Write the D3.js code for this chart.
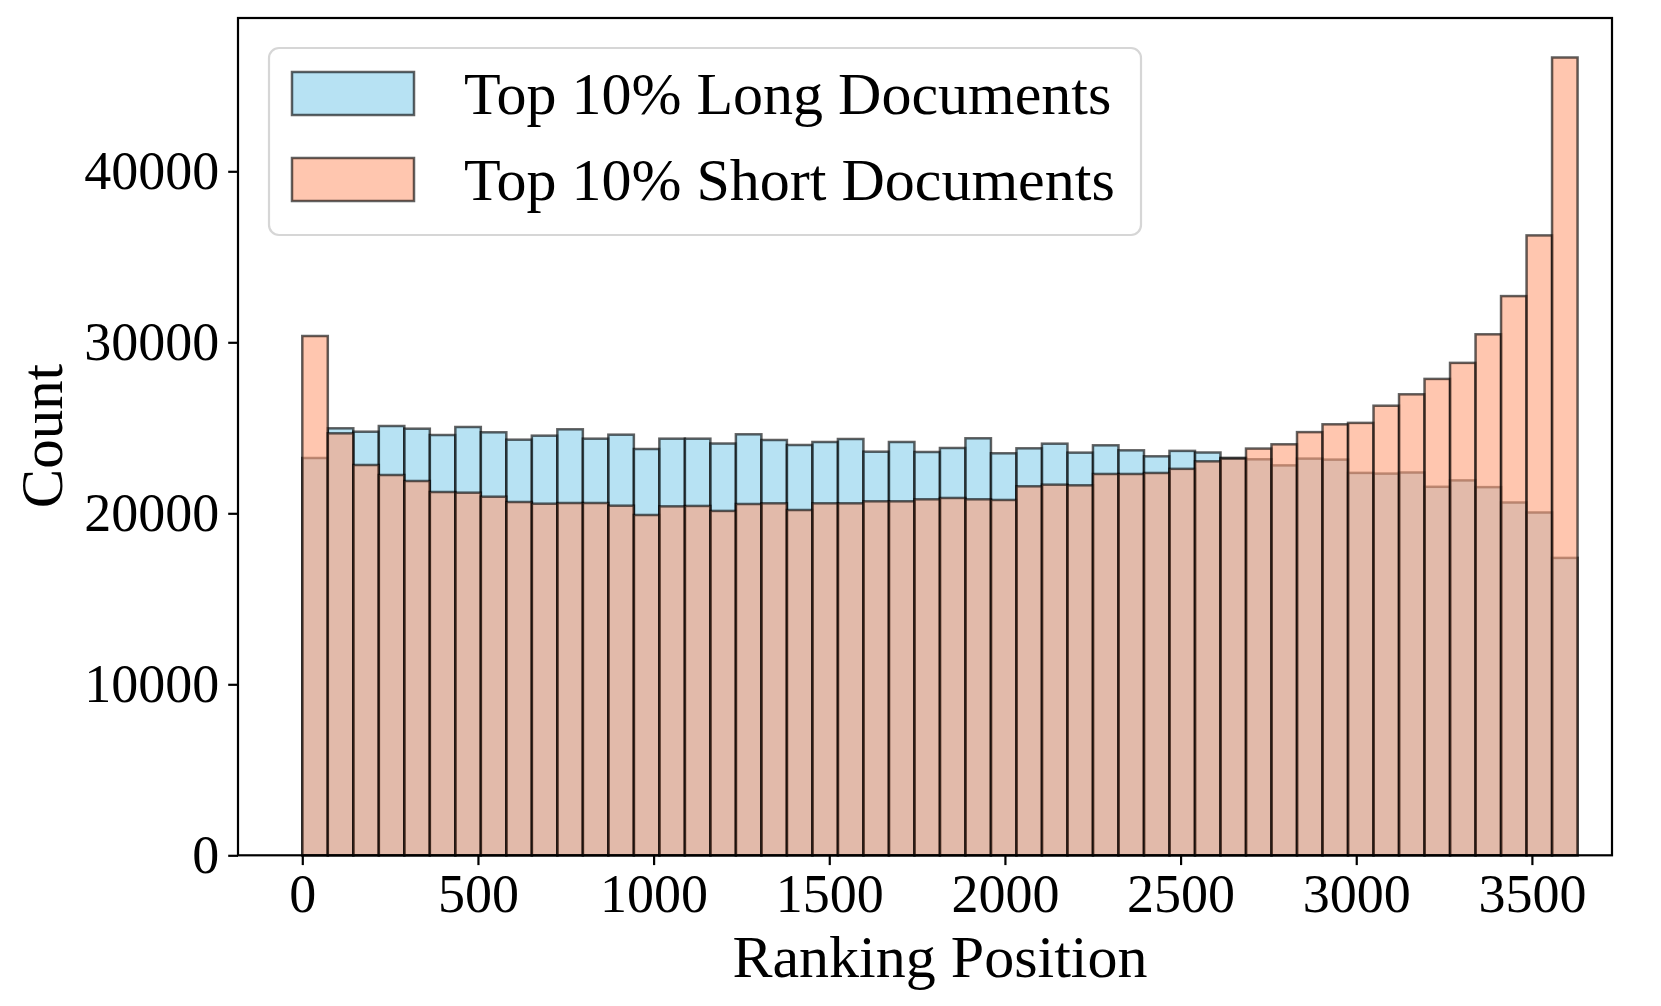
<!DOCTYPE html>
<html>
<head>
<meta charset="utf-8">
<script src="https://cdn.jsdelivr.net/npm/d3@7"></script>
<style>
  body { margin: 0; background: #fff; }
  text { font-family: "Liberation Serif", "DejaVu Serif", serif; fill: #000; }
</style>
</head>
<body>
<div id="chart"></div>
<script>
// histogram settings: 50 bins over 0..3630
const binStart = 0;
const binEnd = 3630;
const binCount = 50;

const longCounts = [23234, 24970, 24772, 25105, 24948, 24578, 25047, 24737, 24305, 24540,
  24912, 24364, 24598, 23760, 24364, 24364, 24080, 24620, 24287, 23994,
  24170, 24345, 23602, 24170, 23585, 23819, 24386, 23509, 23800, 24072,
  23547, 23976, 23683, 23333, 23650, 23555, 23242, 23158, 22803, 23199,
  23140, 22363, 22322, 22386, 21550, 21925, 21530, 20632, 20047, 17392];

const shortCounts = [30368, 24678, 22825, 22240, 21889, 21245, 21206, 20971, 20661, 20563,
  20602, 20602, 20446, 19901, 20407, 20430, 20140, 20544, 20585, 20193,
  20585, 20585, 20702, 20702, 20819, 20897, 20819, 20780, 21579, 21676,
  21637, 22300, 22300, 22359, 22600, 23040, 23200, 23785, 24035, 24748,
  25205, 25287, 26292, 26959, 27859, 28797, 30468, 32702, 36252, 46655];

const xTicks = [0, 500, 1000, 1500, 2000, 2500, 3000, 3500];
const yTicks = [0, 10000, 20000, 30000, 40000];

const seriesNames = ["Top 10% Long Documents", "Top 10% Short Documents"];
const seriesColors = ["#87ceeb", "#ffa07a"];

const fullWidth = 1661, fullHeight = 1006;
const plot = { left: 238, right: 1612, top: 18, bottom: 855.3 };

const svg = d3.select("#chart").append("svg")
  .attr("width", fullWidth)
  .attr("height", fullHeight);

const x = d3.scaleLinear().domain([-183, 3728]).range([plot.left, plot.right]);
const y = d3.scaleLinear().domain([0, 48965]).range([plot.bottom, plot.top]);

const binW = (binEnd - binStart) / binCount;
const toBins = counts => counts.map((c, i) => ({ x0: binStart + i * binW, x1: binStart + (i + 1) * binW, c }));

[longCounts, shortCounts].forEach((counts, si) => {
  svg.append("g")
    .selectAll("rect")
    .data(toBins(counts))
    .join("rect")
    .attr("x", d => x(d.x0))
    .attr("y", d => y(d.c))
    .attr("width", d => x(d.x1) - x(d.x0))
    .attr("height", d => y(0) - y(d.c))
    .style("fill", seriesColors[si])
    .style("fill-opacity", 0.6)
    .style("stroke", "#000")
    .style("stroke-opacity", 0.62)
    .style("stroke-width", 2.5);
});

// frame
svg.append("rect")
  .attr("x", plot.left).attr("y", plot.top)
  .attr("width", plot.right - plot.left).attr("height", plot.bottom - plot.top)
  .style("fill", "none").style("stroke", "#000").style("stroke-width", 2.2);

// x axis
const xAxis = d3.axisBottom(x).tickValues(xTicks).tickFormat(d3.format("d"))
  .tickSize(9.8).tickPadding(9).tickSizeOuter(0);
const gX = svg.append("g")
  .attr("transform", `translate(0,${plot.bottom})`)
  .call(xAxis);
gX.select(".domain").remove();
gX.selectAll("line").style("stroke-width", 2.2);
gX.selectAll("text")
  .style("font-family", "Liberation Serif")
  .style("font-size", "54px");

// y axis
const yAxis = d3.axisLeft(y).tickValues(yTicks).tickFormat(d3.format("d"))
  .tickSize(9.8).tickPadding(9).tickSizeOuter(0);
const gY = svg.append("g")
  .attr("transform", `translate(${plot.left},0)`)
  .call(yAxis);
gY.select(".domain").remove();
gY.selectAll("line").style("stroke-width", 2.2);
gY.selectAll("text")
  .style("font-family", "Liberation Serif")
  .style("font-size", "54px");

svg.append("text")
  .attr("x", 940)
  .attr("y", 977)
  .attr("text-anchor", "middle")
  .style("font-size", "60px")
  .text("Ranking Position");

svg.append("text")
  .attr("transform", "translate(62,436) rotate(-90)")
  .attr("text-anchor", "middle")
  .style("font-size", "59px")
  .text("Count");

// legend
const legend = svg.append("g");
legend.append("rect")
  .attr("x", 269).attr("y", 48)
  .attr("width", 872).attr("height", 187)
  .attr("rx", 10).attr("ry", 10)
  .style("fill", "#fff").style("fill-opacity", 0.8)
  .style("stroke", "#d6d6d6").style("stroke-width", 2.2);

seriesNames.forEach((name, i) => {
  const top = 72 + i * 86;
  legend.append("rect")
    .attr("x", 292).attr("y", top)
    .attr("width", 122).attr("height", 43)
    .style("fill", seriesColors[i]).style("fill-opacity", 0.6)
    .style("stroke", "#000").style("stroke-opacity", 0.62).style("stroke-width", 2.5);
  legend.append("text")
    .attr("x", 464).attr("y", top + 42)
    .style("font-size", "60px")
    .text(name);
});
</script>
</body>
</html>
